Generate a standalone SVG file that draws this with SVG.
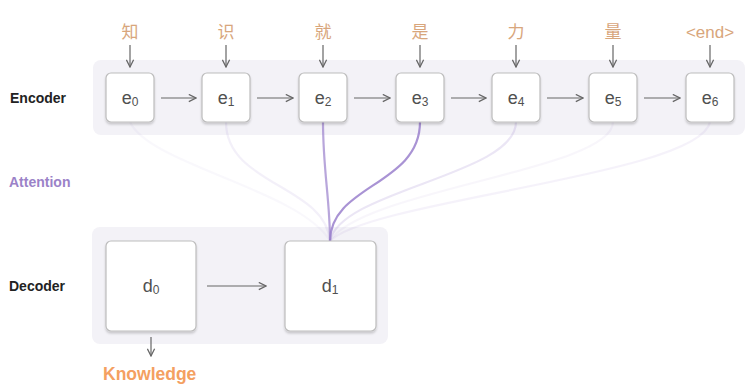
<svg xmlns="http://www.w3.org/2000/svg" width="746" height="391" viewBox="0 0 746 391">
  <defs>
    <marker id="arr" viewBox="0 0 10 10" refX="9" refY="5" markerWidth="9" markerHeight="9" orient="auto" markerUnits="userSpaceOnUse">
      <path d="M1,1 L9,5 L1,9" fill="none" stroke="#666" stroke-width="1.4"/>
    </marker>
    <filter id="sh" x="-20%" y="-20%" width="140%" height="150%">
      <feDropShadow dx="0" dy="2" stdDeviation="0.8" flood-color="#000" flood-opacity="0.18"/>
    </filter>
  </defs>
  <style>
    .panel { fill: #f3f2f7; }
    .box { fill: #fff; stroke: #bdbdbd; stroke-width: 1.2; filter: url(#sh); }
    .lbl { font-family: "Liberation Sans", Arial, sans-serif; font-size: 18px; fill: #505050; text-anchor: middle; }
    .sub { font-size: 12px; }
    .tok { font-family: "Liberation Sans", "Noto Sans CJK SC", sans-serif; font-size: 17px; fill: #d8a67c; text-anchor: middle; }
    .side { font-family: "Liberation Sans", Arial, sans-serif; font-size: 14px; font-weight: bold; }
    .ln { stroke: #666; stroke-width: 1.2; fill: none; marker-end: url(#arr); }
    .att { fill: none; stroke: #9a80cc; stroke-width: 2.2; }
  </style>

  <rect width="746" height="391" fill="#fff"/>

  <!-- panels -->
  <rect class="panel" x="93" y="60" width="652" height="75" rx="8"/>
  <rect class="panel" x="92" y="227" width="296" height="117" rx="8"/>

  <!-- side labels -->
  <text class="side" x="10" y="103" fill="#222">Encoder</text>
  <text class="side" x="9" y="187" fill="#9b82c8">Attention</text>
  <text class="side" x="9" y="291" fill="#222">Decoder</text>
  <text class="side" x="103" y="380" fill="#f4a061" style="font-size:17.5px">Knowledge</text>

  <!-- attention connectors -->
  <g id="attention">
    <path class="att" stroke-opacity="0.06" d="M130,122 C150,165 300,190 330,241"/>
    <path class="att" stroke-opacity="0.12" d="M226,122 C226,185 325,185 330,241"/>
    <path class="att" stroke-opacity="0.7" d="M323,122 C323,170 330,200 330,241"/>
    <path class="att" stroke-opacity="0.85" d="M420,122 C420,185 330,185 330,241"/>
    <path class="att" stroke-opacity="0.2" d="M516,122 C516,175 340,190 330,241"/>
    <path class="att" stroke-opacity="0.07" d="M613,122 C613,170 360,190 330,241"/>
    <path class="att" stroke-opacity="0.1" d="M710,122 C700,175 370,200 330,241"/>
  </g>

  <!-- connectors -->
  <g id="connectors">
    <line class="ln" x1="130" y1="45" x2="130" y2="67"/>
    <line class="ln" x1="226" y1="45" x2="226" y2="67"/>
    <line class="ln" x1="323" y1="45" x2="323" y2="67"/>
    <line class="ln" x1="420" y1="45" x2="420" y2="67"/>
    <line class="ln" x1="516" y1="45" x2="516" y2="67"/>
    <line class="ln" x1="613" y1="45" x2="613" y2="67"/>
    <line class="ln" x1="710" y1="45" x2="710" y2="67"/>

    <line class="ln" x1="161" y1="98" x2="196" y2="98"/>
    <line class="ln" x1="257" y1="98" x2="293" y2="98"/>
    <line class="ln" x1="354" y1="98" x2="390" y2="98"/>
    <line class="ln" x1="451" y1="98" x2="486" y2="98"/>
    <line class="ln" x1="547" y1="98" x2="583" y2="98"/>
    <line class="ln" x1="644" y1="98" x2="680" y2="98"/>

    <line class="ln" x1="207" y1="286" x2="266" y2="286"/>
    <line class="ln" x1="151" y1="337" x2="151" y2="356"/>
  </g>

  <!-- input tokens -->
  <text class="tok" x="130" y="38">知</text>
  <text class="tok" x="226" y="38">识</text>
  <text class="tok" x="323" y="38">就</text>
  <text class="tok" x="420" y="38">是</text>
  <text class="tok" x="516" y="38">力</text>
  <text class="tok" x="613" y="38">量</text>
  <text class="tok" x="710" y="38">&lt;end&gt;</text>

  <!-- encoder nodes -->
  <g id="e0"><rect class="box" x="106" y="73" width="48" height="49" rx="5"/><text class="lbl" x="130" y="104">e<tspan class="sub" dy="2">0</tspan></text></g>
  <g id="e1"><rect class="box" x="202" y="73" width="48" height="49" rx="5"/><text class="lbl" x="226" y="104">e<tspan class="sub" dy="2">1</tspan></text></g>
  <g id="e2"><rect class="box" x="299" y="73" width="48" height="49" rx="5"/><text class="lbl" x="323" y="104">e<tspan class="sub" dy="2">2</tspan></text></g>
  <g id="e3"><rect class="box" x="396" y="73" width="48" height="49" rx="5"/><text class="lbl" x="420" y="104">e<tspan class="sub" dy="2">3</tspan></text></g>
  <g id="e4"><rect class="box" x="492" y="73" width="48" height="49" rx="5"/><text class="lbl" x="516" y="104">e<tspan class="sub" dy="2">4</tspan></text></g>
  <g id="e5"><rect class="box" x="589" y="73" width="48" height="49" rx="5"/><text class="lbl" x="613" y="104">e<tspan class="sub" dy="2">5</tspan></text></g>
  <g id="e6"><rect class="box" x="686" y="73" width="48" height="49" rx="5"/><text class="lbl" x="710" y="104">e<tspan class="sub" dy="2">6</tspan></text></g>

  <!-- decoder nodes -->
  <g id="d0"><rect class="box" x="106" y="241" width="90" height="90" rx="5"/><text class="lbl" x="151" y="292">d<tspan class="sub" dy="2">0</tspan></text></g>
  <g id="d1"><rect class="box" x="285" y="241" width="91" height="90" rx="5"/><text class="lbl" x="330" y="292">d<tspan class="sub" dy="2">1</tspan></text></g>
</svg>
